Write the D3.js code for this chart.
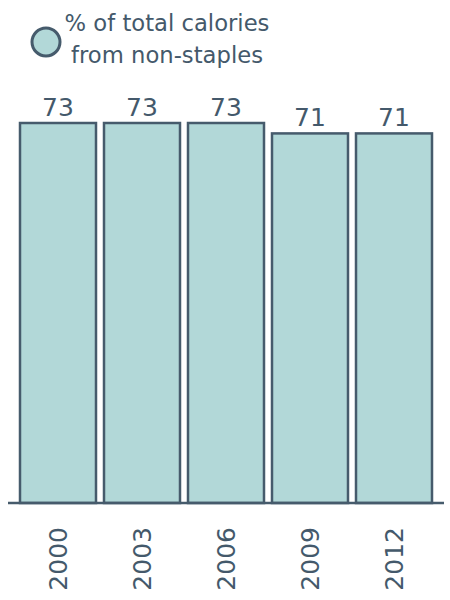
<!DOCTYPE html>
<html>
<head>
<meta charset="utf-8">
<script src="https://cdn.jsdelivr.net/npm/d3@7"></script>
<style>
  html, body { margin: 0; padding: 0; background: #fff; }
  svg { display: block; font-family: "DejaVu Sans", sans-serif; }
</style>
</head>
<body>
<svg id="chart" width="450" height="600"></svg>
<script>
const years = ["2000", "2003", "2006", "2009", "2012"];
const values = [73, 73, 73, 71, 71];
const legendLines = ["% of total calories", "from non-staples"];

const fillColor = "#b2d8d8";
const strokeColor = "#465b6c";
const textColor = "#44596b";

const svg = d3.select("#chart");

const x = d3.scaleBand().domain(years).range([20, 432]).paddingInner(8 / 84).paddingOuter(0);
const y = d3.scaleLinear().domain([0, d3.max(values)]).range([503, 123]);

const data = years.map((yr, i) => ({ year: yr, value: values[i] }));

svg.append("g").selectAll("rect").data(data).join("rect")
  .attr("x", d => x(d.year))
  .attr("y", d => y(d.value))
  .attr("width", x.bandwidth())
  .attr("height", d => y(0) - y(d.value))
  .attr("fill", fillColor)
  .attr("stroke", strokeColor)
  .attr("stroke-width", 2.5);

svg.append("g").selectAll("text").data(data).join("text")
  .attr("x", d => x(d.year) + x.bandwidth() / 2)
  .attr("y", d => y(d.value) - 7)
  .attr("text-anchor", "middle")
  .attr("font-size", 25)
  .attr("fill", textColor)
  .text(d => d.value);

// axis
const axis = svg.append("g")
  .attr("transform", `translate(0,${y(0)})`)
  .call(d3.axisBottom(x).tickSize(0).tickPadding(0));
axis.select(".domain").remove();
axis.selectAll("text")
  .attr("font-size", 25)
  .attr("font-family", "DejaVu Sans, sans-serif")
  .attr("fill", textColor)
  .attr("text-anchor", "end")
  .attr("dy", "0.35em")
  .attr("transform", "translate(0,24) rotate(-90)")
  .attr("x", 0)
  .attr("y", 0);

svg.append("line")
  .attr("x1", x.range()[0] - 12)
  .attr("x2", x.range()[1] + 12)
  .attr("y1", y(0))
  .attr("y2", y(0))
  .attr("stroke", strokeColor)
  .attr("stroke-width", 2.5);

// legend
svg.append("circle")
  .attr("cx", 46).attr("cy", 42).attr("r", 14)
  .attr("fill", fillColor)
  .attr("stroke", strokeColor)
  .attr("stroke-width", 3);

svg.append("g").selectAll("text").data(legendLines).join("text")
  .attr("x", 167)
  .attr("y", (d, i) => 31 + i * 32)
  .attr("text-anchor", "middle")
  .attr("font-size", 22.7)
  .attr("fill", textColor)
  .text(d => d);
</script>
</body>
</html>
